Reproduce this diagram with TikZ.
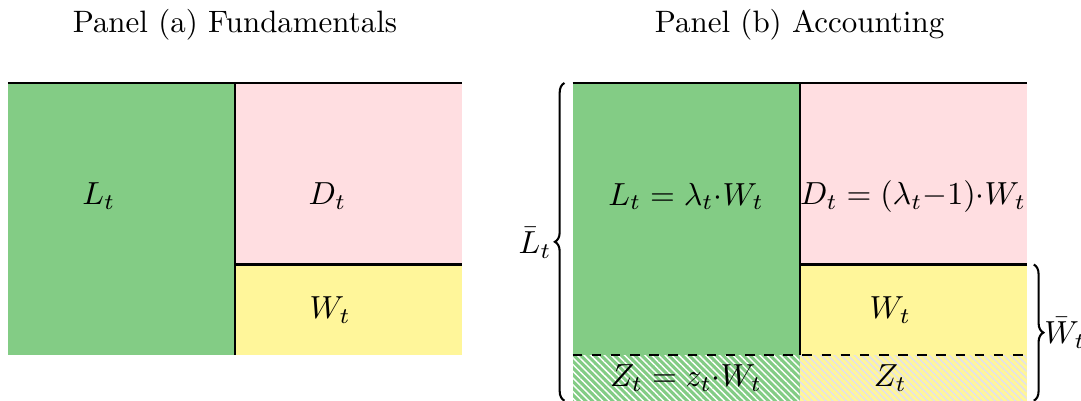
\documentclass[tikz,border=0pt]{standalone}
\usetikzlibrary{patterns.meta, decorations.pathreplacing}
\definecolor{lgreen}{HTML}{83CC85}
\definecolor{lpink}{HTML}{FFDEE1}
\definecolor{lyellow}{HTML}{FFF69A}
\definecolor{hatchy}{HTML}{E2E0EC}
\newcommand{\pdx}{6.22}

\begin{document}
\begin{tikzpicture}[
    every node/.style={font=\fontsize{9.7pt}{11.6pt}\selectfont},
    lenders/.style={fill=lgreen},
    depos/.style={fill=lpink},
    wealth/.style={fill=lyellow},
    hatch/.style={pattern={Lines[angle=135, distance=1.5pt, line width=0.45pt]},
                  pattern color=#1},
    edge/.style={draw=black, line width=0.65pt},
    brc/.style={draw=black, line width=0.65pt, decorate,
                decoration={brace, amplitude=3pt}},
]
\useasboundingbox (-0.088,-3.5) rectangle (11.82,0.914);

% ---------------------------------------------------------------- panel (a)
\fill[lenders] (0,0) rectangle (2.5,-3);
\fill[depos] (2.5,0) rectangle (5,-2);
\fill[wealth] (2.5,-2) rectangle (5,-3);
\draw[edge] (0,0) -- (5,0);
\draw[edge] (2.5,0) -- (2.5,-3);
\draw[edge] (2.5,-2) -- (5,-2);

\node (aL) at (1.0,-1.25) {$L_t$};
\node (aD) at (3.52,-1.25) {$D_t$};
\node (aW) at (3.55,-2.5) {$W_t$};

% ---------------------------------------------------------------- panel (b)
\begin{scope}[xshift=\pdx cm]
\fill[lenders] (0,0) rectangle (2.5,-3);
\fill[depos] (2.5,0) rectangle (5,-2);
\fill[wealth] (2.5,-2) rectangle (5,-3);
% the reserve slice
\fill[lenders] (0,-3) rectangle (2.5,-3.5);
\fill[hatch=white] (0,-3) rectangle (2.5,-3.5);
\fill[wealth] (2.5,-3) rectangle (5,-3.5);
\fill[hatch=hatchy] (2.5,-3) rectangle (5,-3.5);

\draw[edge] (0,0) -- (5,0);
\draw[edge] (2.5,0) -- (2.5,-3);
\draw[edge] (2.5,-2) -- (5,-2);
\draw[edge, dashed] (0,-3) -- (5,-3);

\node (bL) at (1.25,-1.25) {$L_t = \lambda_t {\cdot} W_t$};
\node (bD) at (3.75,-1.25) {$D_t = (\lambda_t {-} 1) {\cdot} W_t$};
\node (bW) at (3.5,-2.5) {$W_t$};
\node (bZ) at (1.25,-3.25) {$Z_t = z_t {\cdot} W_t$};
\node (bZw) at (3.5,-3.25) {$Z_t$};

% braces
\draw[brc] (-0.09,-3.5) -- (-0.09,0);
\node[anchor=east, inner sep=0pt] (Lbar) at (-0.225,-1.76) {$\bar{L}_t$};
\draw[brc] (5.08,-2) -- (5.08,-3.5);
\node[anchor=west, inner sep=0pt] (Wbar) at (5.19,-2.75) {$\bar{W}_t$};
\end{scope}

% ---------------------------------------------------------------- titles
\node (ta) at (2.5,0.64) {Panel (a) Fundamentals};
\node (tb) at (\pdx+2.5,0.64) {Panel (b) Accounting};

\end{tikzpicture}
\end{document}
